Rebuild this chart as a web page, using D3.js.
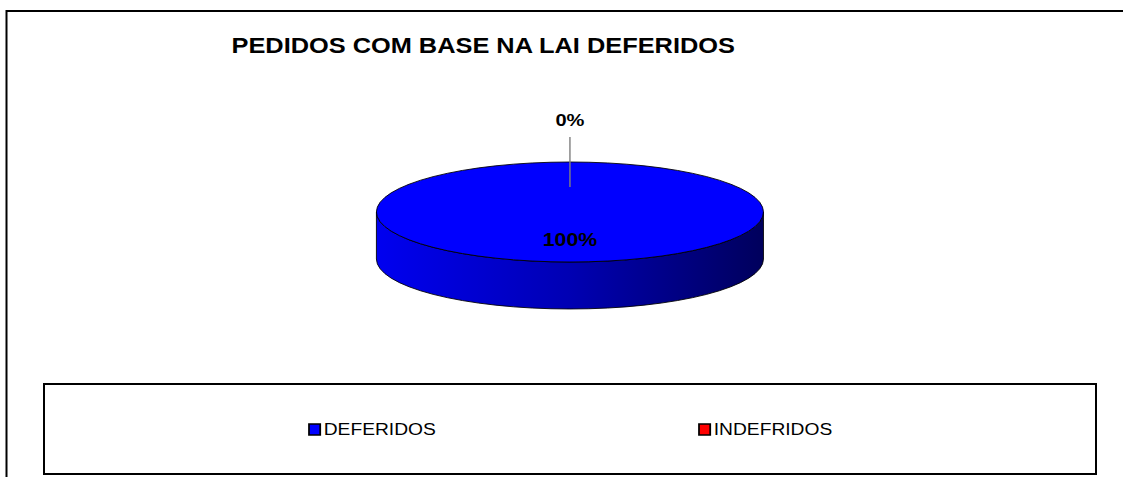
<!DOCTYPE html>
<html>
<head>
<meta charset="utf-8">
<script src="https://cdn.jsdelivr.net/npm/d3@7"></script>
<style>
  html, body { margin: 0; padding: 0; background: #fff; overflow: hidden; }
  svg { display: block; font-family: Arial, "Liberation Sans", sans-serif; }
</style>
</head>
<body>
<div id="chart"></div>
<script>
// Chart data
const categories = ['DEFERIDOS', 'INDEFRIDOS'];
const values = [100, 0];
const percentLabels = ['100%', '0%'];
const colors = ['#0000ff', '#ff0000'];
const title = 'PEDIDOS COM BASE NA LAI DEFERIDOS';

const width = 1123;
const height = 477;
// The original picture is stretched sideways: draw in a narrower space
// and widen it with a horizontal scale on the root group.
const SX = 1.18;

const svg = d3.select('#chart').append('svg')
  .attr('width', width)
  .attr('height', height);

const defs = svg.append('defs');
const root = svg.append('g')
  .attr('transform', `scale(${SX},1)`);

// Title
root.append('text')
  .attr('x', 409.5)
  .attr('y', 53.5)
  .attr('text-anchor', 'middle')
  .attr('font-size', 21.5)
  .attr('font-weight', 'bold')
  .text(title);

// 3D pie geometry
const cx = 483;
const cy = 212;
const rx = 164;
const ry = 50;
const depth = 47;

const color = d3.scaleOrdinal().domain(categories).range(colors);

const pie = d3.pie()
  .sort(null)
  .value(d => d.value)
  .startAngle(0)
  .endAngle(2 * Math.PI);

const data = categories.map((c, i) => ({ name: c, value: values[i], label: percentLabels[i] }));
const arcs = pie(data);

// point on the ellipse at pie angle a (0 = 12 o'clock, clockwise)
function pt(a, k = 1, dy = 0) {
  return [cx + rx * k * Math.sin(a), cy - ry * k * Math.cos(a) + dy];
}

function sideGradient(id, base) {
  const c = d3.color(base);
  const g = defs.append('linearGradient')
    .attr('id', id)
    .attr('gradientUnits', 'userSpaceOnUse')
    .attr('x1', cx - rx).attr('x2', cx + rx)
    .attr('y1', 0).attr('y2', 0);
  g.append('stop').attr('offset', '0%').attr('stop-color', d3.interpolateRgb(c, '#000')(0.06));
  g.append('stop').attr('offset', '50%').attr('stop-color', d3.interpolateRgb(c, '#000')(0.3));
  g.append('stop').attr('offset', '100%').attr('stop-color', d3.interpolateRgb(c, '#000')(0.64));
}
arcs.forEach((d, i) => sideGradient(`side${i}`, color(d.data.name)));

// Side walls: only the front half (pi/2 .. 3pi/2) is visible
const sides = root.append('g');
arcs.forEach((d, i) => {
  const a0 = Math.max(d.startAngle, Math.PI / 2);
  const a1 = Math.min(d.endAngle, 3 * Math.PI / 2);
  if (a1 - a0 <= 1e-6) return;
  const large = a1 - a0 > Math.PI ? 1 : 0;
  const [x0, y0] = pt(a0);
  const [x1, y1] = pt(a1);
  const p = `M${x0},${y0} A${rx},${ry} 0 ${large} 1 ${x1},${y1}` +
    ` L${x1},${y1 + depth} A${rx},${ry} 0 ${large} 0 ${x0},${y0 + depth} Z`;
  sides.append('path')
    .attr('d', p)
    .attr('fill', `url(#side${i})`)
    .attr('stroke', '#000')
    .attr('stroke-width', 0.8);
});

// Top faces
const tops = root.append('g');
arcs.forEach(d => {
  const span = d.endAngle - d.startAngle;
  if (span <= 1e-6) return;
  const fill = color(d.data.name);
  if (span >= 2 * Math.PI - 1e-6) {
    tops.append('ellipse')
      .attr('cx', cx).attr('cy', cy)
      .attr('rx', rx).attr('ry', ry)
      .attr('fill', fill)
      .attr('stroke', '#000')
      .attr('stroke-width', 0.8);
    return;
  }
  const [x0, y0] = pt(d.startAngle);
  const [x1, y1] = pt(d.endAngle);
  tops.append('path')
    .attr('d', `M${cx},${cy} L${x0},${y0} A${rx},${ry} 0 ${span > Math.PI ? 1 : 0} 1 ${x1},${y1} Z`)
    .attr('fill', fill)
    .attr('stroke', '#000')
    .attr('stroke-width', 0.8);
});

// Data labels
const labels = root.append('g')
  .attr('font-weight', 'bold')
  .attr('text-anchor', 'middle');
arcs.forEach(d => {
  const mid = (d.startAngle + d.endAngle) / 2;
  if (d.endAngle - d.startAngle <= 1e-6) {
    // empty slice: label outside with a leader line
    const [lx0, ly0] = pt(mid, 0.5);
    const [lx1, ly1] = pt(mid, 1.5);
    labels.append('line')
      .attr('x1', lx0).attr('y1', ly0)
      .attr('x2', lx1).attr('y2', ly1)
      .attr('stroke', '#808080')
      .attr('stroke-width', 1.2);
    const [tx, ty] = pt(mid, 1.72);
    labels.append('text')
      .attr('x', tx).attr('y', ty)
      .attr('font-size', 17)
      .text(d.data.label);
  } else {
    const [tx, ty] = pt(mid, 0.55, 6.5);
    labels.append('text')
      .attr('x', tx).attr('y', ty)
      .attr('font-size', 18)
      .text(d.data.label);
  }
});

// Legend (box in screen pixels, items widened like the rest)
const legend = svg.append('g');
legend.append('rect')
  .attr('x', 44)
  .attr('y', 384)
  .attr('width', 1052)
  .attr('height', 90)
  .attr('fill', '#fff')
  .attr('stroke', '#000')
  .attr('stroke-width', 2);

const legendX = d3.scalePoint()
  .domain(categories)
  .range([309, 699]);

const item = legend.selectAll('g.item')
  .data(categories)
  .join('g')
  .attr('class', 'item')
  .attr('transform', d => `translate(${legendX(d)},429.5) scale(${SX},1)`);

item.append('rect')
  .attr('x', 0).attr('y', -5.5)
  .attr('width', 9.5).attr('height', 11)
  .attr('fill', d => color(d))
  .attr('stroke', '#000')
  .attr('stroke-width', 1.5);

item.append('text')
  .attr('x', 12.5)
  .attr('y', 5.8)
  .attr('font-size', 16.3)
  .text(d => d);

// keep the right margin clear: the chart area runs off the page there
svg.append('rect')
  .attr('x', 1104)
  .attr('y', 12.5)
  .attr('width', 30)
  .attr('height', height)
  .attr('fill', '#fff');

// Outer chart frame: only left and top edges are in view
svg.append('path')
  .attr('d', `M6.5,${height} L6.5,11 L${width},11`)
  .attr('fill', 'none')
  .attr('stroke', '#000')
  .attr('stroke-width', 2);
</script>
</body>
</html>
